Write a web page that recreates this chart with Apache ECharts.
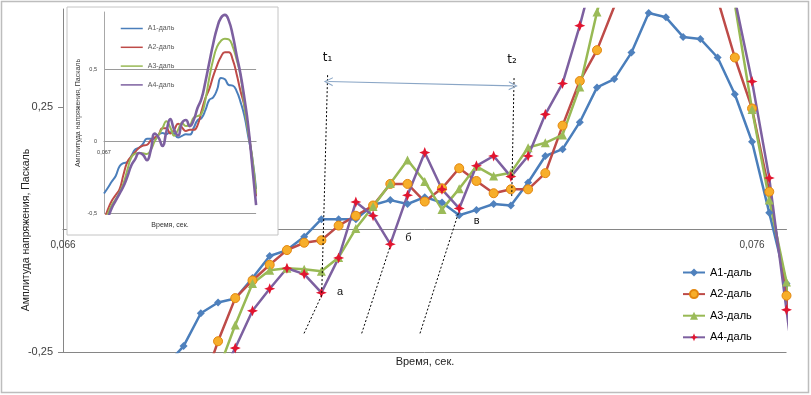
<!DOCTYPE html>
<html>
<head>
<meta charset="utf-8">
<script src="https://cdn.jsdelivr.net/npm/echarts@6/dist/echarts.min.js"></script>
<style>
html,body{margin:0;padding:0;background:#fff;}
#chart{width:811px;height:395px;}
</style>
</head>
<body>
<div id="chart"></div>
<script>
// time, s (x values)
var times = [0.06700,0.06725,0.06750,0.06775,0.06800,0.06825,0.06850,0.06875,0.06900,0.06925,
             0.06950,0.06975,0.07000,0.07025,0.07050,0.07075,0.07100,0.07125,0.07150,0.07175,
             0.07200,0.07225,0.07250,0.07275,0.07300,0.07325,0.07350,0.07375,0.07400,0.07425,
             0.07450,0.07475,0.07500,0.07525,0.07550,0.07575,0.07600,0.07625,0.07650,0.07675];
var seriesNames = ['А1-даль','А2-даль','А3-даль','А4-даль'];
var a1 = [-0.36,-0.32,-0.277,-0.238,-0.171,-0.149,-0.141,-0.099,-0.054,-0.042,
          -0.015,0.021,0.021,0.021,0.050,0.060,0.052,0.066,0.055,0.029,
          0.040,0.052,0.049,0.096,0.150,0.164,0.219,0.290,0.307,0.361,
          0.442,0.433,0.393,0.389,0.351,0.276,0.179,0.034,-0.11,-0.33];
var a2 = [-0.55,-0.47,-0.41,-0.37,-0.33,-0.228,-0.140,-0.104,-0.072,-0.042,
          -0.027,-0.022,0.008,0.028,0.049,0.093,0.093,0.057,0.084,0.125,
          0.099,0.074,0.082,0.082,0.115,0.212,0.303,0.366,0.455,0.53,
          0.59,0.62,0.62,0.57,0.47,0.351,0.247,0.077,-0.135,-0.38];
var a3 = [-0.58,-0.50,-0.44,-0.40,-0.35,-0.289,-0.195,-0.110,-0.083,-0.079,
          -0.081,-0.085,-0.057,0.002,0.047,0.094,0.142,0.098,0.041,0.083,
          0.129,0.109,0.116,0.167,0.177,0.193,0.291,0.444,0.57,0.66,
          0.70,0.715,0.71,0.66,0.57,0.46,0.245,0.060,-0.107,-0.36];
var a4 = [-0.60,-0.53,-0.46,-0.41,-0.36,-0.31,-0.242,-0.166,-0.121,-0.079,
          -0.091,-0.129,-0.058,0.056,0.028,-0.030,0.070,0.157,0.082,0.043,
          0.130,0.150,0.108,0.150,0.235,0.298,0.416,0.55,0.68,0.79,
          0.86,0.88,0.84,0.74,0.60,0.47,0.302,0.105,-0.164,-0.44];
var mainYTicks = [-0.25, 0.25];
var mainXTicks = [0.066, 0.076];
var insetYTicks = [-0.5, 0, 0.5];
var insetXTicks = [0.067];

function pairs(vals){ return times.map(function(t,i){ return [t, vals[i]]; }); }
function fmt(v, d){ if (Math.abs(v) < 1e-12) return '0'; return v.toFixed(d).replace('.', ','); }

var lineColors = ['#4A7EBB','#BE4B48','#98B954','#7D60A0'];
var markColors = ['#4F81BD','#F7AE2A','#9BBB59','#E2152F'];
var markBorders = ['#4F81BD','#E3870F','#8AAE48','#E2152F'];
var starPath = 'path://M0,-6 L1.7,-1.7 L6,0 L1.7,1.7 L0,6 L-1.7,1.7 L-6,0 L-1.7,-1.7 Z';
var symbols = ['diamond','circle','triangle',starPath];
var symSizes = [8,9,9,11];
var allVals = [a1,a2,a3,a4];
var FONT = '"Liberation Sans", Arial, sans-serif';

var series = [];
allVals.forEach(function(v,i){
  series.push({
    name: seriesNames[i], type:'line', xAxisIndex:0, yAxisIndex:0,
    data: pairs(v), symbol: symbols[i], symbolSize: symSizes[i], showSymbol:true,
    lineStyle:{color: lineColors[i], width:2.5},
    itemStyle:{color: markColors[i], borderColor: markBorders[i], borderWidth: (i===1?1:0)},
    z:2, clip:true
  });
});
// inset (smoothed copy of the same data)
allVals.forEach(function(v,i){
  series.push({
    name: seriesNames[i] + ' ', type:'line', xAxisIndex:1, yAxisIndex:1,
    data: pairs(v), symbol:'none', showSymbol:false, smooth:0.5,
    lineStyle:{color: lineColors[i], width: (i===3?2.6:2)},
    itemStyle:{color: lineColors[i]},
    z:7, clip:true
  });
});

// annotations on main chart (data coordinates)
var dotted = {type:[2,2], color:'#000', width:1};
var chevron = 'path://M0,0 L6,10 L4.4,10 L0,2.6 L-4.4,10 L-6,10 Z';
series[0].markLine = {
  silent:true, symbol:['none','none'], label:{show:false}, animation:false,
  data:[
    [{coord:[0.06984,0.315], lineStyle:dotted},{coord:[0.069755,-0.129]}],
    [{coord:[0.072546,0.309], lineStyle:dotted},{coord:[0.072512,0.064]}],
    [{coord:[0.069498,-0.212], lineStyle:dotted},{coord:[0.069755,-0.134]}],
    [{coord:[0.070335,-0.212], lineStyle:dotted},{coord:[0.070746,-0.035]}],
    [{coord:[0.071181,-0.212], lineStyle:dotted},{coord:[0.071737,0.033]}],
    [{coord:[0.06985,0.302], symbol:chevron, symbolSize:[9,9],
      lineStyle:{type:'solid', color:'#8AA6C6', width:1.2}},
     {coord:[0.072535,0.293], symbol:chevron, symbolSize:[9,9]}]
  ]
};
series[0].markPoint = {
  silent:true, symbol:'circle', symbolSize:1, itemStyle:{color:'rgba(0,0,0,0)'}, animation:false,
  label:{show:true, position:'inside', color:'#111', fontSize:11, fontFamily:FONT,
         formatter:function(p){return p.name;}},
  data:[
    {name:'а', coord:[0.07002,-0.128]},
    {name:'б', coord:[0.071012,-0.018]},
    {name:'в', coord:[0.072004,0.018]},
    {name:'t₁', coord:[0.069839,0.35], label:{fontSize:12, fontFamily:'"DejaVu Sans", sans-serif'}},
    {name:'t₂', coord:[0.072517,0.346], label:{fontSize:12, fontFamily:'"DejaVu Sans", sans-serif'}}
  ]
};

var option = {
  animation:false,
  backgroundColor:'#fff',
  textStyle:{fontFamily:FONT},
  grid:[
    {left:63, right:24.5, top:9, bottom:43, containLabel:false},
    {left:104, top:12, width:152.1, height:201.7, containLabel:false, z:5}
  ],
  xAxis:[
    {type:'value', gridIndex:0, min:0.066, max:0.0765, interval:0.01, offset:-122.5,
     axisLine:{onZero:false, lineStyle:{color:'#868686', width:1}},
     axisTick:{show:false}, splitLine:{show:false},
     axisLabel:{fontSize:10, color:'#404040', margin:11, fontFamily:FONT, customValues: mainXTicks,
       formatter:function(v){ return fmt(v,3); }}},
    {type:'value', gridIndex:1, min:0.067, max:0.07675, interval:0.01, z:6, offset:-72.04,
     axisLine:{onZero:false, lineStyle:{color:'#9A9A9A', width:1}},
     axisTick:{show:false}, splitLine:{show:false},
     axisLabel:{fontSize:5.5, color:'#404040', margin:8, fontFamily:FONT, customValues: insetXTicks,
       formatter:function(v){ return fmt(v,3); }}}
  ],
  yAxis:[
    {type:'value', gridIndex:0, min:-0.25, max:0.45, interval:0.25,
     axisLine:{show:true, onZero:false, lineStyle:{color:'#868686', width:1}},
     axisTick:{show:true, length:5, lineStyle:{color:'#868686'}, customValues: mainYTicks},
     splitLine:{show:true, showMaxLine:false, lineStyle:{color:'#868686', width:1}},
     axisLabel:{fontSize:11, color:'#404040', margin:10, fontFamily:FONT, customValues: mainYTicks,
       formatter:function(v){ return fmt(v,2); }}},
    {type:'value', gridIndex:1, min:-0.5, max:0.9, interval:0.5, z:6,
     axisLine:{show:true, onZero:false, lineStyle:{color:'#A8A8A8', width:1}},
     axisTick:{show:false},
     splitLine:{show:true, showMaxLine:false, lineStyle:{color:'#9A9A9A', width:1}},
     axisLabel:{fontSize:5.5, color:'#404040', margin:7, fontFamily:FONT, customValues: insetYTicks,
       formatter:function(v){ return fmt(v,1); }}}
  ],
  legend:[
    {data:seriesNames, orient:'vertical', left:677, top:262, itemWidth:22, itemHeight:10, itemGap:10.6,
     textStyle:{fontSize:11, color:'#000', fontFamily:FONT}, selectedMode:false},
    {data:seriesNames.map(function(n){return n+' ';}), orient:'vertical', left:115, top:20,
     itemWidth:22, itemHeight:6, itemGap:11.8, z:8, selectedMode:false,
     itemStyle:{opacity:0}, lineStyle:{width:1.5},
     formatter:function(n){return n.trim();},
     textStyle:{fontSize:7, color:'#595959', fontFamily:FONT}}
  ],
  graphic:[
    {type:'rect', z:0, shape:{x:1.5, y:1.5, width:807, height:391}, style:{fill:null, stroke:'#BDBDBD', lineWidth:1.5}, silent:true},
    {type:'rect', z:4, shape:{x:67, y:7, width:211, height:228}, style:{fill:'#fff', stroke:'#C4C4C4', lineWidth:1}, silent:true},
    {type:'text', z:8, x:26, y:230, rotation:Math.PI/2, silent:true,
     style:{text:'Амплитуда напряжения, Паскаль', font:'10.5px "Liberation Sans", Arial, sans-serif', fill:'#222', align:'center', verticalAlign:'middle'}},
    {type:'text', z:8, x:425, y:362, silent:true,
     style:{text:'Время, сек.', font:'11px "Liberation Sans", Arial, sans-serif', fill:'#222', align:'center', verticalAlign:'middle'}},
    {type:'text', z:8, x:78, y:113, rotation:Math.PI/2, silent:true,
     style:{text:'Амплитуда напряжения, Паскаль', font:'7px "Liberation Sans", Arial, sans-serif', fill:'#333', align:'center', verticalAlign:'middle'}},
    {type:'text', z:8, x:170, y:225, silent:true,
     style:{text:'Время, сек.', font:'7px "Liberation Sans", Arial, sans-serif', fill:'#333', align:'center', verticalAlign:'middle'}}
  ],
  series: series
};

var chart = echarts.init(document.getElementById('chart'), null, {renderer:'canvas'});
chart.setOption(option);
</script>
</body>
</html>
